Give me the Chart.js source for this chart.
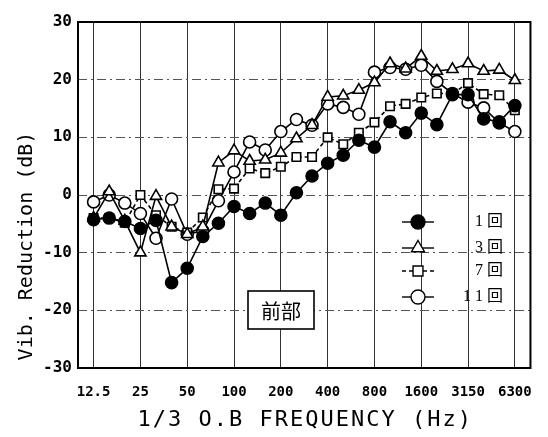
<!DOCTYPE html>
<html>
<head>
<meta charset="utf-8">
<script src="https://cdn.jsdelivr.net/npm/chart.js@4/dist/chart.umd.min.js"></script>
<style>
  html, body { margin: 0; padding: 0; background: #fff; }
  #wrap { width: 548px; height: 437px; }
</style>
</head>
<body>
<div id="wrap"><canvas id="c" width="548" height="437"></canvas></div>
<script>
// 1/3 octave band centre frequencies (Hz)
const bands = ['12.5','16','20','25','31.5','40','50','63','80','100','125','160','200','250',
               '315','400','500','630','800','1000','1250','1600','2000','2500','3150','4000','5000','6300'];
// bands that carry a tick label
const tickBands = ['12.5','25','50','100','200','400','800','1600','3150','6300'];
const yTicks = [-30, -20, -10, 0, 10, 20, 30];

// vibration reduction (dB) per band, after 1, 3, 7 and 11 runs
const run1  = [-4.3, -4.0, -4.6, -5.8, -4.4, -15.2, -12.7, -7.2, -4.9, -2.0, -3.2, -1.4, -3.5, 0.4,
               3.3, 5.5, 6.9, 9.5, 8.3, 12.7, 10.8, 14.2, 12.2, 17.4, 17.4, 13.2, 12.7, 15.5];
const run3  = [-4.0, 0.6, -4.5, -10.0, -0.2, -5.5, -6.8, -5.5, 5.6, 7.7, 5.9, 6.1, 7.3, 9.8,
               12.1, 17.0, 17.2, 18.2, 19.5, 22.8, 21.9, 24.1, 21.5, 21.8, 22.8, 21.5, 21.7, 19.9];
const run7  = [-4.0, -4.0, -4.8, 0.0, -3.5, -5.5, -6.5, -3.9, 1.0, 1.1, 4.6, 3.8, 4.9, 6.6,
               6.6, 10.0, 8.8, 10.8, 12.6, 15.4, 15.8, 16.9, 17.6, 17.6, 19.4, 17.5, 17.3, 14.7];
const run11 = [-1.2, 0.0, -1.4, -3.2, -7.5, -0.7, -6.8, -6.2, -1.0, 4.0, 9.2, 7.8, 11.0, 13.1,
               12.1, 15.8, 15.2, 14.0, 21.3, 22.1, 21.8, 22.5, 19.7, 17.6, 16.1, 15.1, 12.5, 11.0];

const seriesNames = ['1 回', '3 回', '7 回', '1 1 回'];
const panelLabel = '前部';
const xTitle = '1/3 O.B FREQUENCY (Hz)';
const yTitle = 'Vib. Reduction (dB)';

const toPoints = vals => vals.map((v, i) => ({ x: i, y: v }));

const base = {
  borderColor: '#000',
  borderWidth: 1.6,
  pointBorderColor: '#000',
  pointBorderWidth: 1.6,
  tension: 0,
  fill: false
};

const datasets = [
  Object.assign({}, base, { label: seriesNames[0], data: toPoints(run1),
    pointStyle: 'circle', pointRadius: 6, backgroundColor: '#000', pointBackgroundColor: '#000' }),
  Object.assign({}, base, { label: seriesNames[1], data: toPoints(run3),
    pointStyle: 'triangle', pointRadius: 6.5, backgroundColor: '#fff', pointBackgroundColor: '#fff' }),
  Object.assign({}, base, { label: seriesNames[2], data: toPoints(run7), borderDash: [4, 3],
    pointStyle: 'rect', pointRadius: 6, backgroundColor: '#fff', pointBackgroundColor: '#fff' }),
  Object.assign({}, base, { label: seriesNames[3], data: toPoints(run11),
    pointStyle: 'circle', pointRadius: 6, backgroundColor: '#fff', pointBackgroundColor: '#fff' })
];

// Frame, axis titles, inset legend and panel label
const decorations = {
  id: 'decorations',
  afterDraw(chart) {
    const { ctx, chartArea: a } = chart;
    ctx.save();

    // plot frame
    ctx.strokeStyle = '#000';
    ctx.lineWidth = 2;
    ctx.setLineDash([]);
    ctx.strokeRect(a.left, a.top, a.right - a.left, a.bottom - a.top);

    // x title
    ctx.fillStyle = '#000';
    ctx.font = '22px "DejaVu Sans Mono", monospace';
    ctx.textAlign = 'center';
    ctx.textBaseline = 'middle';
    if ('letterSpacing' in ctx) ctx.letterSpacing = '2px';
    ctx.fillText(xTitle, (a.left + a.right) / 2 + 1, 420);
    if ('letterSpacing' in ctx) ctx.letterSpacing = '0px';

    // y title
    ctx.save();
    ctx.translate(27, 246);
    ctx.rotate(-Math.PI / 2);
    ctx.font = '20px "DejaVu Sans Mono", monospace';
    ctx.fillText(yTitle, 0, 0);
    ctx.restore();

    // legend
    const lx = a.left + 340;
    const rows = [a.top + 200, a.top + 226, a.top + 249, a.top + 275];
    chart.data.datasets.forEach((ds, i) => {
      const y = rows[i];
      ctx.strokeStyle = '#000';
      ctx.lineWidth = 1.4;
      ctx.setLineDash(ds.borderDash || []);
      ctx.beginPath();
      ctx.moveTo(lx - 16, y);
      ctx.lineTo(lx + 16, y);
      ctx.stroke();
      ctx.setLineDash([]);
      ctx.fillStyle = ds.pointBackgroundColor;
      ctx.strokeStyle = '#000';
      ctx.lineWidth = 1.4;
      Chart.helpers.drawPoint(ctx, {
        pointStyle: ds.pointStyle, radius: ds.pointRadius + 1, rotation: 0, borderWidth: 1.4
      }, lx, y);
      ctx.fillStyle = '#000';
      ctx.font = '16px "Liberation Serif", "Noto Sans CJK JP", serif';
      ctx.textAlign = 'right';
      ctx.textBaseline = 'middle';
      ctx.fillText(ds.label, a.left + 425, y);
    });

    // panel label box
    const bx = a.left + 170, by = a.top + 269, bw = 66, bh = 38;
    ctx.fillStyle = '#fff';
    ctx.fillRect(bx, by, bw, bh);
    ctx.strokeStyle = '#000';
    ctx.lineWidth = 1.6;
    ctx.strokeRect(bx, by, bw, bh);
    ctx.fillStyle = '#000';
    ctx.font = '20px "Noto Sans CJK JP", sans-serif';
    ctx.textAlign = 'center';
    ctx.textBaseline = 'middle';
    ctx.fillText(panelLabel, bx + bw / 2, by + bh / 2 + 1);

    ctx.restore();
  }
};

new Chart(document.getElementById('c'), {
  type: 'line',
  data: { datasets },
  options: {
    responsive: false,
    animation: false,
    devicePixelRatio: 1,
    layout: { padding: { top: 22, right: 7, left: 0, bottom: 0 } },
    plugins: { legend: { display: false }, tooltip: { enabled: false } },
    scales: {
      x: {
        type: 'linear',
        min: -1,
        max: bands.length,
        afterBuildTicks: s => { s.ticks = tickBands.map(b => ({ value: bands.indexOf(b) })); },
        afterFit: s => { s.height = 69; },
        ticks: {
          autoSkip: false,
          maxRotation: 0,
          padding: 16,
          color: '#000',
          font: { family: '"DejaVu Sans Mono", monospace', size: 14, weight: 'bold' },
          callback: v => bands[v]
        },
        grid: { color: '#333', lineWidth: 1, drawTicks: false },
        border: { display: false }
      },
      y: {
        type: 'linear',
        min: yTicks[0],
        max: yTicks[yTicks.length - 1],
        afterBuildTicks: s => { s.ticks = yTicks.map(v => ({ value: v })); },
        afterFit: s => { s.width = 78; },
        ticks: {
          padding: 6,
          color: '#000',
          font: { family: '"DejaVu Sans Mono", monospace', size: 16, weight: 'bold' }
        },
        grid: { color: '#555', lineWidth: 1, drawTicks: false, borderDash: [9, 4, 2, 4] },
        border: { display: false, dash: [9, 4, 2, 4] }
      }
    }
  },
  plugins: [decorations]
});
</script>
</body>
</html>
